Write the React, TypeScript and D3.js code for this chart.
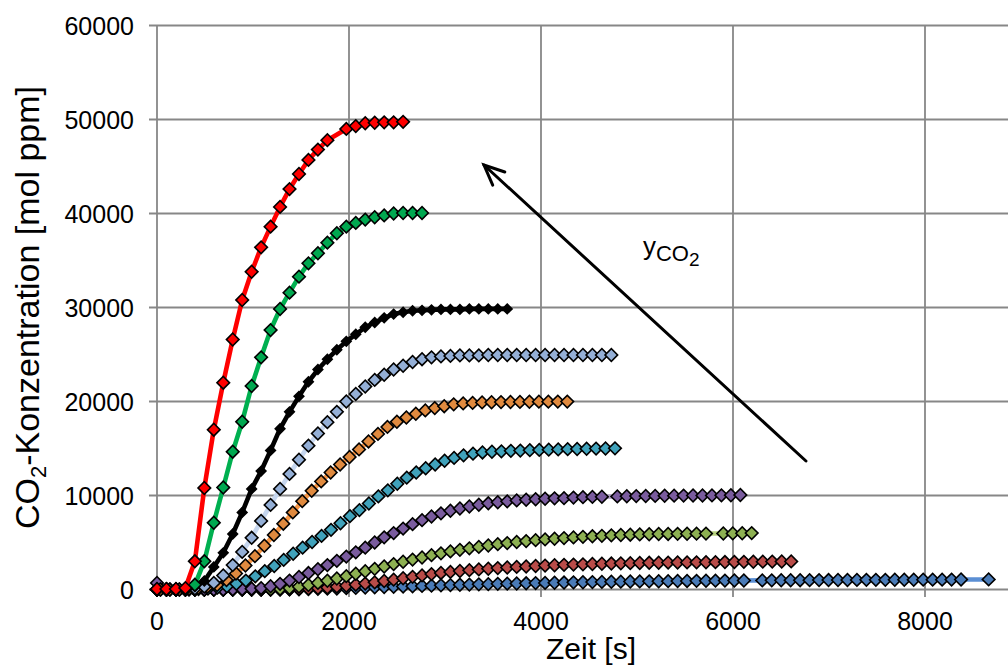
import React from "react";
import * as d3 from "d3";

// Logger sampling interval [s]
const STEP = 98.6;

const xTicks = [0, 2000, 4000, 6000, 8000];
const yTicks = [0, 10000, 20000, 30000, 40000, 50000, 60000];

// Each run: [start time in s, number of consecutive samples]
const redRuns = [[0, 19], [1972, 7]];
const redValues = [50, 50, 50, 150, 3000, 10800, 17000, 22000, 26600, 30800,
  33800, 36400, 38600, 40700, 42600, 44200, 45700, 46800, 47800,
  49000, 49300, 49600, 49650, 49700, 49700, 49750];

const greenRuns = [[0, 29]];
const greenValues = [0, 0, 0, 50, 500, 3000, 7100, 10850, 14660, 17850,
  21650, 24700, 27600, 29840, 31580, 33280, 34700, 35770, 36900, 37900,
  38600, 39000, 39350, 39600, 39800, 40000, 40050, 40050, 40050];

const blackRuns = [[0, 38]];
const blackValues = [0, 0, 0, 0, 300, 900, 2400, 3900, 5900, 8200,
  10700, 12600, 14800, 17100, 18900, 20550, 22100, 23400, 24500, 25500,
  26400, 27150, 27900, 28400, 28900, 29300, 29500, 29650, 29700, 29750,
  29800, 29800, 29800, 29850, 29850, 29850, 29850, 29850];

const skyRuns = [[0, 49]];
const skyValues = [0, 0, 0, 0, 100, 300, 700, 1500, 2600, 4000,
  5500, 7300, 9000, 10700, 12300, 13800, 15300, 16600, 17800, 18900,
  20000, 20800, 21600, 22300, 22850, 23400, 23800, 24200, 24500, 24700,
  24800, 24850, 24900, 24900, 24900, 24950, 24950, 24950, 24950, 24950,
  24950, 24950, 24950, 24950, 24950, 24950, 24950, 24950, 24950];

const orangeRuns = [[34, 44]];
const orangeValues = [0, 0, 0, 50, 150, 300, 480, 1000, 1700, 2550,
  3550, 4650, 5800, 7000, 8200, 9400, 10500, 11500, 12450, 13300,
  14100, 14900, 15750, 16550, 17300, 17850, 18300, 18700, 19050, 19300,
  19500, 19700, 19800, 19850, 19900, 19920, 19940, 19950, 19960, 19970,
  19980, 19980, 19990, 19990];

const tealRuns = [[38, 49]];
const tealValues = [0, 0, 0, 0, 50, 100, 200, 350, 600, 950,
  1400, 1950, 2500, 3150, 3800, 4450, 5050, 5700, 6350, 7050,
  7800, 8450, 9150, 9900, 10550, 11250, 11900, 12450, 12900, 13300,
  13700, 14000, 14270, 14450, 14580, 14650, 14700, 14750, 14780, 14820,
  14850, 14880, 14900, 14930, 14950, 14970, 14990, 15000, 15020];

const purpleRuns = [[0, 48], [4795, 14]];
const purpleValues = [700, 0, 0, 0, 0, 0, 0, 0, 20, 50,
  80, 150, 350, 600, 950, 1330, 1750, 2150, 2600, 3050,
  3500, 3950, 4450, 5000, 5550, 6000, 6480, 6950, 7380, 7770,
  8100, 8380, 8620, 8830, 9020, 9170, 9280, 9380, 9480, 9550,
  9600, 9650, 9700, 9720, 9780, 9820, 9850, 9870,
  9900, 9920, 9940, 9950, 9960, 9970, 9980, 9990, 10000, 10000,
  10010, 10020, 10030, 10050];

const oliveRuns = [[0, 59], [5899, 4]];
const oliveValues = [0, 0, 0, 0, 0, 0, 0, 0, 0, 0,
  0, 0, 20, 80, 150, 300, 480, 700, 930, 1170,
  1420, 1680, 1940, 2200, 2450, 2700, 2950, 3180, 3400, 3650,
  3850, 4050, 4220, 4380, 4530, 4680, 4820, 4940, 5050, 5150,
  5250, 5330, 5400, 5470, 5540, 5600, 5660, 5710, 5760, 5800,
  5830, 5860, 5880, 5900, 5910, 5920, 5930, 5940, 5950,
  5960, 5970, 5980, 6000];

const brickRuns = [[0, 68]];
const brickValues = [0, 0, 0, 0, 0, 0, 0, 0, 0, 0,
  0, 0, 0, 0, 30, 60, 100, 150, 210, 300,
  400, 510, 630, 760, 900, 1050, 1200, 1350, 1500, 1640,
  1760, 1870, 1970, 2060, 2140, 2210, 2280, 2340, 2400, 2450,
  2500, 2540, 2580, 2620, 2650, 2680, 2710, 2740, 2760, 2780,
  2800, 2820, 2840, 2850, 2860, 2870, 2880, 2890, 2900, 2910,
  2920, 2930, 2940, 2950, 2960, 2970, 2980, 2990];

const blueRuns = [[0, 63], [6305, 22], [8663, 1]];
const blueValues = [0, 0, 0, 0, 0, 0, 0, 0, 0, 0,
  0, 0, 0, 10, 20, 30, 50, 70, 90, 110,
  140, 170, 200, 230, 260, 290, 320, 350, 380, 410,
  440, 470, 500, 520, 550, 570, 600, 620, 640, 660,
  680, 700, 720, 740, 760, 775, 790, 805, 820, 835,
  850, 860, 870, 880, 890, 900, 910, 920, 930, 940,
  950, 955, 960,
  970, 975, 980, 985, 990, 995, 1000, 1005, 1010, 1015,
  1020, 1025, 1030, 1030, 1035, 1040, 1040, 1045, 1050, 1050,
  1055, 1060,
  1070];

type Series = {
  runs: number[][];
  values: number[];
  fill: string;
  stroke: string;
  r: number;
};

// drawn from the lowest inlet concentration up, so the 50000 ppm run sits on top
const series: Series[] = [
  { runs: blueRuns, values: blueValues, fill: "#4a7bb7", stroke: "#5b8fd4", r: 6.3 },
  { runs: brickRuns, values: brickValues, fill: "#b94c49", stroke: "#c0504d", r: 6.3 },
  { runs: oliveRuns, values: oliveValues, fill: "#8db052", stroke: "#b6d17e", r: 6.3 },
  { runs: purpleRuns, values: purpleValues, fill: "#7a5c9e", stroke: "#b3a2c7", r: 6.3 },
  { runs: tealRuns, values: tealValues, fill: "#40a2bb", stroke: "#4bacc6", r: 6.3 },
  { runs: orangeRuns, values: orangeValues, fill: "#e08a3f", stroke: "#f79646", r: 6.3 },
  { runs: skyRuns, values: skyValues, fill: "#94afd6", stroke: "#c6d6ee", r: 6.3 },
  { runs: blackRuns, values: blackValues, fill: "#000000", stroke: "#000000", r: 4.8 },
  { runs: greenRuns, values: greenValues, fill: "#00a850", stroke: "#00b050", r: 6.3 },
  { runs: redRuns, values: redValues, fill: "#ff0000", stroke: "#ff0000", r: 6.3 },
];

function sampleTimes(runs: number[][]): number[] {
  const t: number[] = [];
  runs.forEach(([start, n]) => {
    for (let i = 0; i < n; i++) t.push(start + i * STEP);
  });
  return t;
}

// annotation arrow (tail -> head) and its label, in data units
const arrowTail = [6760, 13670];
const arrowHead = [3406, 45160];
const labelAt = [5062, 35600];

const FONT = "'Liberation Sans', Arial, Helvetica, sans-serif";
const GRID = "#878787";

export default function App() {
  const x = d3.scaleLinear().domain([0, 9000]).range([157, 1021]);
  const y = d3.scaleLinear().domain([0, 60000]).range([589.5, 25.5]);
  const [x0, x1] = x.range();
  const [yb, yt] = y.range();

  const line = d3
    .line<[number, number]>()
    .x((d) => x(d[0]))
    .y((d) => y(d[1]));

  const marker = (r: number) =>
    d3.symbol().type(d3.symbolSquare).size(2 * r * r)() as string;

  // arrow head barbs
  const hx = x(arrowHead[0]);
  const hy = y(arrowHead[1]);
  const tx = x(arrowTail[0]);
  const ty = y(arrowTail[1]);
  const ang = Math.atan2(ty - hy, tx - hx);
  const barb = 22;
  const spread = (24 * Math.PI) / 180;
  const b1 = [hx + barb * Math.cos(ang + spread), hy + barb * Math.sin(ang + spread)];
  const b2 = [hx + barb * Math.cos(ang - spread), hy + barb * Math.sin(ang - spread)];

  const lx = x(labelAt[0]);
  const ly = y(labelAt[1]);

  return (
    <svg
      width={1008}
      height={671}
      style={{ position: "absolute", left: 0, top: 0, background: "#ffffff" }}
      fontFamily={FONT}
    >
      {/* grid */}
      <g stroke={GRID} strokeWidth={1.8}>
        {yTicks.map((v) => (
          <line key={"h" + v} x1={x0 - 8} x2={x1} y1={y(v)} y2={y(v)} />
        ))}
        {xTicks.map((v) => (
          <line key={"v" + v} x1={x(v)} x2={x(v)} y1={yt} y2={yb + 7.5} />
        ))}
      </g>

      {/* tick labels */}
      <g fontSize={25} fill="#000">
        {yTicks.map((v) => (
          <text key={"yl" + v} x={134} y={y(v)} textAnchor="end" dominantBaseline="central">
            {v}
          </text>
        ))}
        {xTicks.map((v) => (
          <text key={"xl" + v} x={x(v)} y={621} textAnchor="middle" dominantBaseline="central">
            {v}
          </text>
        ))}
      </g>

      {/* axis titles */}
      <text x={591} y={659} fontSize={30} textAnchor="middle" fill="#000">
        Zeit [s]
      </text>
      <text
        transform={`translate(39, ${(yt + yb) / 2}) rotate(-90)`}
        fontSize={34}
        textAnchor="middle"
        fill="#000"
      >
        CO
        <tspan fontSize={22} dy={7}>2</tspan>
        <tspan dy={-7}>-Konzentration [mol ppm]</tspan>
      </text>

      {/* series */}
      {series.map((s, i) => {
        const t = sampleTimes(s.runs);
        const pts = s.values.map((v, k) => [t[k], v] as [number, number]);
        const sym = marker(s.r);
        return (
          <g key={"s" + i}>
            <path d={line(pts) as string} fill="none" stroke={s.stroke} strokeWidth={4.6} strokeLinejoin="round" />
            {pts.map((p, k) => (
              <path
                key={k}
                d={sym}
                transform={`translate(${x(p[0])},${y(p[1])}) rotate(45)`}
                fill={s.fill}
                stroke="#000"
                strokeWidth={1.6}
              />
            ))}
          </g>
        );
      })}

      {/* arrow pointing towards rising inlet concentration */}
      <g stroke="#000" strokeWidth={3} fill="none" strokeLinecap="round">
        <line x1={tx} y1={ty} x2={hx} y2={hy} />
        <polyline points={`${b1[0]},${b1[1]} ${hx},${hy} ${b2[0]},${b2[1]}`} strokeLinejoin="miter" />
      </g>
      <text x={lx} y={ly} fontSize={26} fill="#000">
        y
        <tspan fontSize={22} dy={6}>CO</tspan>
        <tspan fontSize={19} dy={5}>2</tspan>
      </text>
    </svg>
  );
}
